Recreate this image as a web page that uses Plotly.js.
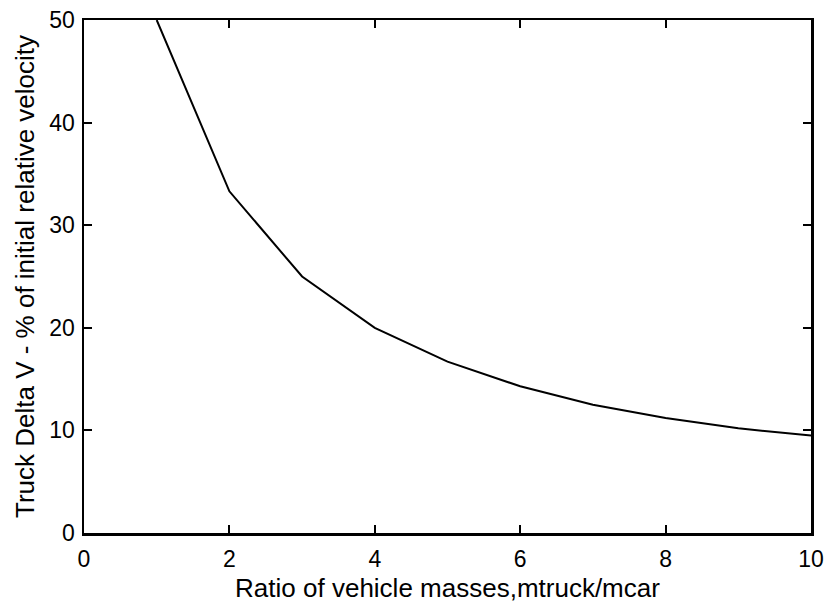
<!DOCTYPE html>
<html>
<head>
<meta charset="utf-8">
<script src="https://cdn.plot.ly/plotly-3.0.1.min.js"></script>
<style>
  html, body { margin: 0; padding: 0; background: #fff; }
  #chart { width: 827px; height: 605px; }
</style>
</head>
<body>
<div id="chart"></div>
<script>
// Mass ratio of the two vehicles (truck / car)
const massRatio = [1, 2, 3, 4, 5, 6, 7, 8, 9, 10];
// Truck velocity change, % of initial relative velocity
const truckDeltaV = [50, 33.3, 25, 20, 16.7, 14.3, 12.5, 11.2, 10.2, 9.5];

const xTicks = [0, 2, 4, 6, 8, 10];
const yTicks = [0, 10, 20, 30, 40, 50];

const fontFamily = 'Liberation Sans, Arial, Helvetica, sans-serif';
const tickFont = { family: fontFamily, size: 23, color: '#000' };
const titleFont = { family: fontFamily, size: 26, color: '#000' };

const trace = {
  x: massRatio,
  y: truckDeltaV,
  type: 'scatter',
  mode: 'lines',
  line: { color: '#000', width: 2 },
  hoverinfo: 'x+y'
};

const commonAxis = {
  showgrid: false,
  zeroline: false,
  showline: true,
  linecolor: '#000',
  linewidth: 2.5,
  mirror: 'allticks',
  ticks: 'inside',
  ticklen: 8,
  tickwidth: 2,
  tickcolor: '#000',
  tickfont: tickFont
};

const layout = {
  width: 827,
  height: 605,
  margin: { l: 84, r: 16, t: 20, b: 72 },
  paper_bgcolor: '#fff',
  plot_bgcolor: '#fff',
  showlegend: false,
  xaxis: Object.assign({}, commonAxis, {
    range: [0, 10],
    tickvals: xTicks,
    ticktext: xTicks.map(String),
    ticklabelstandoff: 4,
    title: { text: 'Ratio of vehicle masses,mtruck/mcar', font: titleFont, standoff: 8 }
  }),
  yaxis: Object.assign({}, commonAxis, {
    range: [0, 50],
    tickvals: yTicks,
    ticktext: yTicks.map(String),
    ticklabelstandoff: 2,
    title: { text: 'Truck Delta V - % of initial relative velocity', font: titleFont, standoff: 7 }
  })
};

Plotly.newPlot('chart', [trace], layout, { displayModeBar: false, staticPlot: true });
</script>
</body>
</html>
